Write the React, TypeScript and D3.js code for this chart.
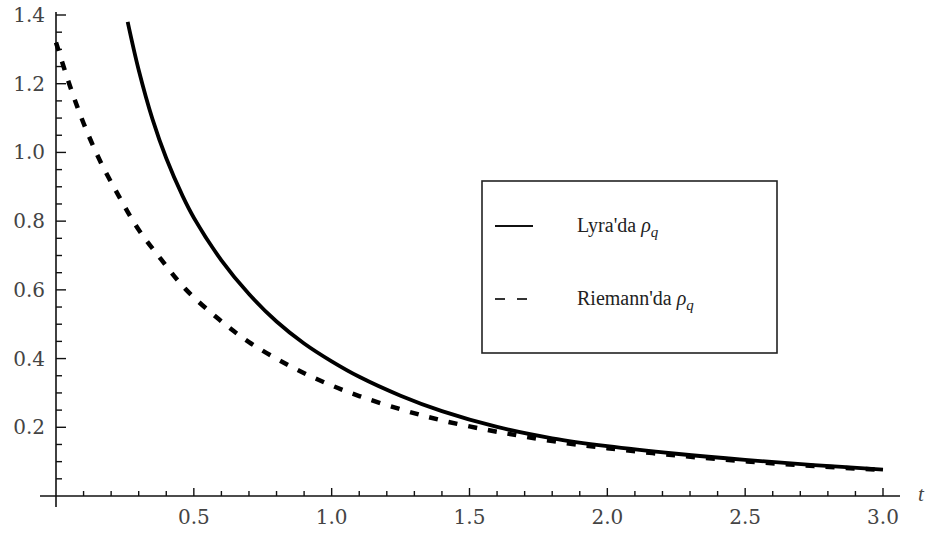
import React, { useEffect, useRef } from "react";
import * as d3 from "d3";

// Lyra'da rho_q (solid)
const lyraT = [0.26, 0.3, 0.35, 0.4, 0.46, 0.5, 0.6, 0.7, 0.8, 0.9, 1.0, 1.1, 1.25, 1.4, 1.6, 1.8, 2.0, 2.25, 2.5, 2.75, 3.0];
const lyraRho = [1.38, 1.24, 1.097, 0.983, 0.872, 0.81, 0.686, 0.588, 0.508, 0.444, 0.392, 0.347, 0.292, 0.247, 0.201, 0.168, 0.145, 0.123, 0.105, 0.09, 0.077];

// Riemann'da rho_q (dashed)
const riemannT = [0, 0.05, 0.1, 0.16, 0.23, 0.3, 0.38, 0.47, 0.59, 0.7, 0.84, 0.97, 1.1, 1.26, 1.4, 1.56, 1.7, 1.86, 2.0, 2.25, 2.5, 2.75, 3.0];
const riemannRho = [1.32, 1.195, 1.085, 0.975, 0.87, 0.775, 0.69, 0.602, 0.515, 0.448, 0.382, 0.332, 0.291, 0.25, 0.22, 0.193, 0.173, 0.153, 0.139, 0.118, 0.101, 0.087, 0.076];

const xTicks = [0.5, 1.0, 1.5, 2.0, 2.5, 3.0];
const yTicks = [0.2, 0.4, 0.6, 0.8, 1.0, 1.2, 1.4];

const W = 930;
const H = 537;
const TICK_FONT = "'DejaVu Serif', serif";
const LEGEND_FONT = "'Liberation Serif', 'Times New Roman', serif";

const App = () => {
  const ref = useRef<SVGSVGElement>(null);

  useEffect(() => {
    const svg = d3.select(ref.current);
    svg.selectAll("*").remove();

    const x = d3.scaleLinear().domain([0, 3]).range([56, 883]);
    const y = d3.scaleLinear().domain([0, 1.4]).range([496, 15]);

    svg.append("rect").attr("width", W).attr("height", H).attr("fill", "#fff");

    // axes lines
    svg.append("line").attr("x1", 40).attr("x2", 900).attr("y1", y(0)).attr("y2", y(0))
      .attr("stroke", "#111").attr("stroke-width", 1.6);
    svg.append("line").attr("x1", x(0)).attr("x2", x(0)).attr("y1", 12).attr("y2", 507)
      .attr("stroke", "#111").attr("stroke-width", 1.6);

    // x ticks (minor every 0.1, major every 0.5)
    const xMinor = d3.range(1, 31).map((i) => i / 10);
    svg.append("g").selectAll("line").data(xMinor).join("line")
      .attr("x1", (d) => x(d)).attr("x2", (d) => x(d))
      .attr("y1", y(0))
      .attr("y2", (d) => y(0) - (Math.abs(d * 2 - Math.round(d * 2)) < 1e-6 ? 8 : 5))
      .attr("stroke", "#111").attr("stroke-width", 1.4);

    // y ticks (minor every 0.05, major every 0.2)
    const yMinor = d3.range(1, 29).map((i) => i / 20);
    svg.append("g").selectAll("line").data(yMinor).join("line")
      .attr("y1", (d) => y(d)).attr("y2", (d) => y(d))
      .attr("x1", x(0))
      .attr("x2", (d) => x(0) + (Math.abs(d * 5 - Math.round(d * 5)) < 1e-6 ? 10 : 6))
      .attr("stroke", "#111").attr("stroke-width", 1.4);

    // tick labels
    svg.append("g").selectAll("text").data(xTicks).join("text")
      .attr("x", (d) => x(d)).attr("y", 524)
      .attr("text-anchor", "middle")
      .style("font-family", TICK_FONT).style("font-size", "20px").attr("fill", "#444")
      .text((d) => d.toFixed(1));

    svg.append("g").selectAll("text").data(yTicks).join("text")
      .attr("x", 45).attr("y", (d) => y(d) + 7)
      .attr("text-anchor", "end")
      .style("font-family", TICK_FONT).style("font-size", "20px").attr("fill", "#444")
      .text((d) => d.toFixed(1));

    svg.append("text").attr("x", 918).attr("y", 501)
      .style("font-family", LEGEND_FONT).style("font-style", "italic").style("font-size", "21px").attr("fill", "#444")
      .text("t");

    // curves
    const line = d3.line<[number, number]>()
      .x((d) => x(d[0])).y((d) => y(d[1]))
      .curve(d3.curveCatmullRom.alpha(0.5));

    svg.append("path")
      .datum(riemannT.map((t, i) => [t, riemannRho[i]] as [number, number]))
      .attr("d", line).attr("fill", "none")
      .attr("stroke", "#000").attr("stroke-width", 4.5)
      .attr("stroke-dasharray", "9,11");

    svg.append("path")
      .datum(lyraT.map((t, i) => [t, lyraRho[i]] as [number, number]))
      .attr("d", line).attr("fill", "none")
      .attr("stroke", "#000").attr("stroke-width", 3.8);

    // legend
    const lg = svg.append("g");
    lg.append("rect").attr("x", 482).attr("y", 181).attr("width", 295).attr("height", 172)
      .attr("fill", "#fff").attr("stroke", "#222").attr("stroke-width", 1.6);
    lg.append("line").attr("x1", 495).attr("x2", 533).attr("y1", 226).attr("y2", 226)
      .attr("stroke", "#111").attr("stroke-width", 2);
    lg.append("line").attr("x1", 495).attr("x2", 528).attr("y1", 299).attr("y2", 299)
      .attr("stroke", "#333").attr("stroke-width", 2).attr("stroke-dasharray", "10,12");

    const entries = [
      { label: "Lyra'da ", y: 232 },
      { label: "Riemann'da ", y: 305 },
    ];
    entries.forEach((e) => {
      const t = lg.append("text").attr("x", 577).attr("y", e.y)
        .style("font-family", LEGEND_FONT).style("font-size", "20px").attr("fill", "#222");
      t.append("tspan").text(e.label);
      t.append("tspan").style("font-style", "italic").text("ρ");
      t.append("tspan").style("font-style", "italic").style("font-size", "15px").attr("dy", 5).text("q");
    });
  }, []);

  return (
    <div style={{ position: "absolute", left: 0, top: 0 }}>
      <svg ref={ref} width={W} height={H} style={{ display: "block" }}></svg>
    </div>
  );
};

export default App;
